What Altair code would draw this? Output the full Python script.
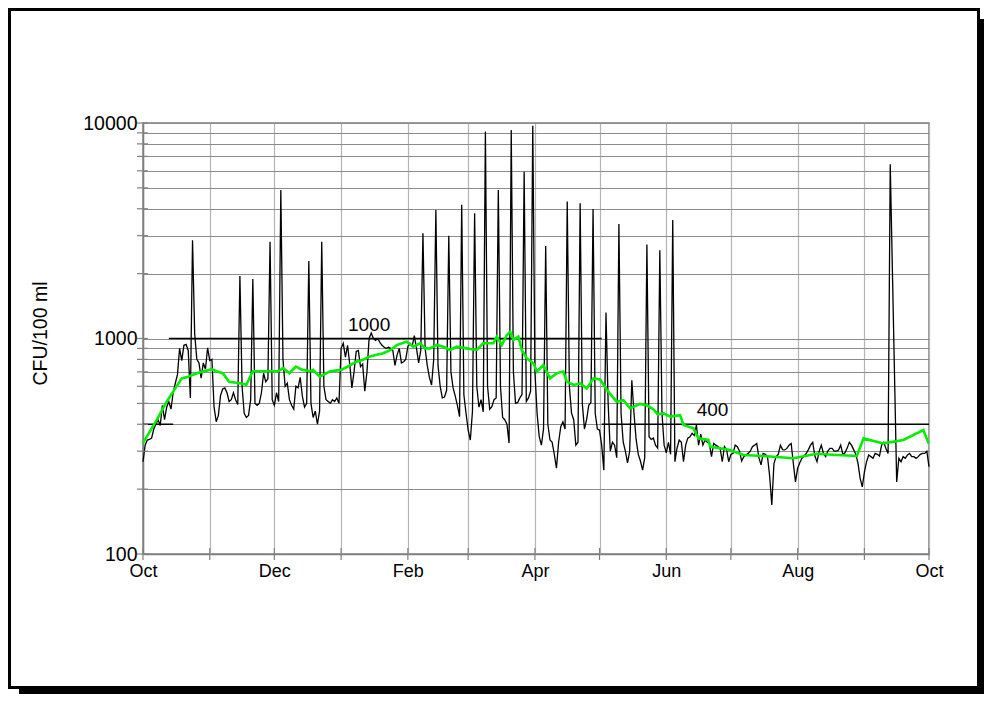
import altair as alt
import pandas as pd

# ---- axis definitions (days counted from 1 October) ----
MONTH_STARTS = [0, 31, 61, 92, 123, 151, 182, 212, 243, 273, 304, 335, 365]
MONTH_LABELS = ["Oct", "", "Dec", "", "Feb", "", "Apr", "", "Jun", "", "Aug", "", "Oct"]
Y_TICKS = [100, 200, 300, 400, 500, 600, 700, 800, 900,
           1000, 2000, 3000, 4000, 5000, 6000, 7000, 8000, 9000, 10000]
Y_LABELED = [100, 1000, 10000]

# ---- daily counts (black line), days 0..347 ----
black_vals_a = [
    268, 320, 338, 340, 345, 380, 400, 420, 395, 490, 420, 480, 510, 470, 560, 620, 680, 900, 790, 930, 940, 880, 530,
    2860, 1050, 800, 770, 655, 770, 720, 905, 790, 800,
    480, 411, 440, 543, 583, 590, 560, 510, 520, 560, 520, 494,
    1950, 600, 450, 430, 440, 520,
    1890, 500, 490, 500, 560, 690, 630, 650,
    2810, 520, 490, 560, 510,
    4890, 800, 600, 620, 520, 490, 470, 600, 590, 660, 540, 480, 500,
    2290, 500, 430, 460, 400, 460,
    2810, 600, 520, 510, 500, 520, 510, 530, 500,
    900, 950, 820, 930, 760, 590, 700, 870, 880, 740, 760, 570, 700, 1000, 1060, 1000, 980, 1000, 960, 930,
    910, 900, 910, 900, 880, 750, 840, 900,
    770, 780, 800, 920, 950, 920, 1030, 900, 770, 880, 3080,
    900, 750, 660, 608, 800, 3950,
    750, 600, 530, 535, 575, 3000,
    700, 590, 540, 490, 434, 4170,
    550, 450, 376, 338, 460, 3810,
    600, 480, 520, 457, 9120,
    600, 470, 483, 520, 530, 4890,
    600, 430, 420, 400, 327, 9290,
    700, 500, 505, 530, 550, 5940,
    510, 530, 570, 9700,
    700, 450, 350, 320, 380, 2690,
    400, 338, 330, 290, 250, 330, 390, 410, 380, 4320,
    600, 450, 420, 320, 330, 4240,
    500, 380, 420, 490, 505, 3990,
    450, 380, 376, 320, 245, 1320,
    500, 300, 330, 320, 280, 3400,
    450, 330, 300, 265, 300, 640, 450, 340, 290, 270, 245, 280, 2730,
    350, 340, 345, 320, 310, 2570,
    450, 320, 295, 330, 290, 3550,
    268, 310, 338, 330, 268, 320, 345, 350, 363, 355, 397, 320, 360, 320, 338, 330, 326, 283, 326, 320,
    315, 309, 268, 315, 304, 268, 290, 293, 320, 315, 300, 270, 283, 288, 293, 300, 315, 320, 326, 280,
    259, 293, 290, 283, 230, 169, 263, 283, 290, 320, 305, 304, 309, 320, 326, 263, 216, 250, 265, 278,
    285, 293, 305, 320, 330, 285, 268, 300, 320, 293, 283, 300, 309, 309, 300, 300, 304, 320, 290, 295,
    310, 330, 320, 305, 290, 265, 225, 205, 240, 268, 288, 283, 278, 293, 290, 285, 320, 330, 309, 293,
    6430,
]
# days 350..365
black_vals_b = [216, 278, 268, 283, 278, 288, 293, 283, 283, 278, 283, 290, 293, 293, 300, 254]
black_days = list(range(len(black_vals_a))) + list(range(350, 350 + len(black_vals_b)))
black_vals = black_vals_a + black_vals_b

# ---- running mean (green line) ----
green_days = [0, 6.4, 11, 14, 18, 21, 25, 32, 34, 37, 40, 45, 48, 51, 59, 63, 65, 68, 71, 74,
              78, 79, 82, 87, 92, 95, 99, 102, 105, 108.5, 111.6, 115, 118, 122.5, 125.5, 128.7, 131, 133.3, 136.4, 139.5,
              142.6, 145.7, 150.3, 155, 158, 162.7, 164.3, 166.6, 169, 170.5, 172, 174.3, 175.9, 178.2, 181.3, 182.9, 185.9, 189, 192, 195.2,
              196.8, 199.9, 203, 206.1, 209.2, 212.3, 215.4, 220, 223.1, 226.2, 230.8, 233.9, 237, 239, 241.7, 244.8, 249.4, 251, 255.6, 257.9,
              262.6, 263.4, 272.6, 278.8, 288.1, 302, 312.9, 322.2, 331.5, 334.6, 343.8, 353.1, 362.4, 364.8]
green_vals = [328, 419, 509, 567, 653, 665, 690, 720, 705, 690, 630, 620, 610, 705, 705, 705, 730, 690, 740, 715,
              705, 715, 665, 705, 715, 740, 780, 795, 824, 840, 855, 885, 933, 967, 916, 950, 900, 900, 933, 916,
              885, 916, 900, 885, 950, 950, 1020, 933, 1038, 1076, 985, 1020, 885, 809, 767, 702, 754, 653, 689, 702,
              631, 609, 619, 587, 653, 645, 577, 509, 517, 474, 497, 490, 470, 445, 449, 434, 441, 397, 383, 344,
              338, 315, 304, 288, 285, 278, 292, 288, 285, 344, 326, 338, 376, 326]

# ---- limit lines and their labels ----
limit_start = [0, 12, 213]
limit_end = [14, 213, 365]
limit_value = [400, 1000, 400]
note_text = ["1000", "400"]
note_day = [105, 264.5]
note_value = [1000, 400]

FONT = "Liberation Sans"
W, H = 786, 431

black_df = pd.DataFrame({"day": black_days, "cfu": black_vals})
green_df = pd.DataFrame({"day": green_days, "cfu": green_vals})
limit_df = pd.DataFrame({"day": limit_start, "end": limit_end, "cfu": limit_value})
note_df = pd.DataFrame({"day": note_day, "cfu": note_value, "text": note_text})
ytick_df = pd.DataFrame({"cfu": Y_TICKS})
xtick_df = pd.DataFrame({"day": MONTH_STARTS})
one = pd.DataFrame({"k": [0]})

xscale = alt.Scale(domain=[0, 365], nice=False, zero=False)
yscale = alt.Scale(type="log", domain=[100, 10000], nice=False)

month_js = "[" + ",".join(str(v) for v in MONTH_STARTS) + "]"
label_js = "[" + ",".join("'" + s + "'" for s in MONTH_LABELS) + "]"
ylab_js = "[" + ",".join(str(v) for v in Y_LABELED) + "]"

x_axis = alt.Axis(values=MONTH_STARTS, labelExpr=f"{label_js}[indexof({month_js}, datum.value)]",
                  grid=True, gridColor="#b4b4b4", gridWidth=1.2, ticks=False,
                  domainColor="#808080", domainWidth=1.5, labelFontSize=18, labelColor="black",
                  labelPadding=8, labelFlush=False, labelOverlap=False, title=None)
y_axis = alt.Axis(values=Y_TICKS, labelExpr=f"indexof({ylab_js}, datum.value) >= 0 ? format(datum.value, 'd') : ''",
                  grid=True, gridColor="#8c8c8c", gridWidth=1.2, ticks=False,
                  domainColor="#808080", domainWidth=1.5, labelFontSize=19.5, labelColor="black",
                  labelPadding=6, labelOverlap=False, labelFlush=False,
                  title="CFU/100 ml", titleFontSize=19.5, titleFontWeight="normal", titleColor="black",
                  titleX=-103, titleY=210, titleAngle=270, titleBaseline="middle", titleAlign="center")


def X(field):
    return alt.X(field, type="quantitative", scale=xscale, axis=x_axis)


def Y(field):
    return alt.Y(field, type="quantitative", scale=yscale, axis=y_axis)


# decorative outer frame with drop shadow (pixel offsets from the plot area)
shadow_right = alt.Chart(one).mark_rect(color="black").encode(
    x=alt.value(837), x2=alt.value(845), y=alt.value(-104), y2=alt.value(575))
shadow_bottom = alt.Chart(one).mark_rect(color="black").encode(
    x=alt.value(-124), x2=alt.value(845), y=alt.value(566), y2=alt.value(575))
frame = alt.Chart(one).mark_rect(fill=None, stroke="black", strokeWidth=3).encode(
    x=alt.value(-133.5), x2=alt.value(835.5), y=alt.value(-113.5), y2=alt.value(564.5))

limits = alt.Chart(limit_df).mark_rule(color="black", strokeWidth=1.5).encode(
    x=X("day"), x2="end:Q", y=Y("cfu"))

black = alt.Chart(black_df).mark_line(color="black", strokeWidth=1.3).encode(x=X("day"), y=Y("cfu"))

green = alt.Chart(green_df).mark_line(color="#00ee00", strokeWidth=2.6).encode(x=X("day"), y=Y("cfu"))

yticks = alt.Chart(ytick_df).mark_rule(color="#808080", strokeWidth=1.2).encode(
    y=Y("cfu"), x=alt.value(-6), x2=alt.value(5))
xticks = alt.Chart(xtick_df).mark_rule(color="#808080", strokeWidth=1.2).encode(
    x=X("day"), y=alt.value(H - 6), y2=alt.value(H + 6))

notes = alt.Chart(note_df).mark_text(fontSize=19, color="black", baseline="alphabetic", align="center", dy=-8).encode(
    x=X("day"), y=Y("cfu"), text="text:N")

chart = alt.layer(shadow_right, shadow_bottom, frame, limits, black, green, yticks, xticks, notes).properties(
    width=W, height=H,
    autosize=alt.AutoSizeParams(type="none"),
    padding={"left": 135, "top": 115, "right": 55, "bottom": 140},
).configure(font=FONT, background="white").configure_view(stroke="#808080", strokeWidth=1.5)

chart.save("out.html", embed_options={"renderer": "svg", "actions": False})
